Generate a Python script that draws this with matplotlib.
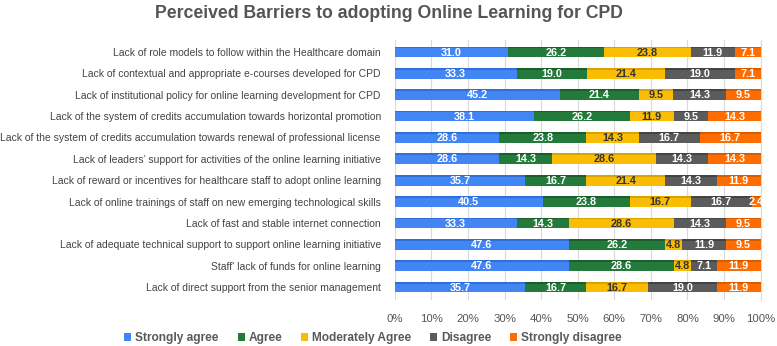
import numpy as np
import matplotlib.pyplot as plt

plt.rcParams['font.family'] = ['Liberation Sans', 'DejaVu Sans']

categories = [
    "Lack of role models to follow within the Healthcare domain",
    "Lack of contextual and appropriate e-courses developed for CPD",
    "Lack of institutional policy for online learning development for CPD",
    "Lack of the system of credits accumulation towards horizontal promotion",
    "Lack of the system of credits accumulation towards renewal of professional license",
    "Lack of leaders\u2019 support for activities of the online learning initiative",
    "Lack of reward or incentives for healthcare staff to adopt online learning",
    "Lack of online trainings of staff on new emerging technological skills",
    "Lack of fast and stable internet connection",
    "Lack of adequate technical support to support online learning initiative",
    "Staff' lack of funds for online learning",
    "Lack of direct support from the senior management",
]
strongly_agree = [31.0, 33.3, 45.2, 38.1, 28.6, 28.6, 35.7, 40.5, 33.3, 47.6, 47.6, 35.7]
agree = [26.2, 19.0, 21.4, 26.2, 23.8, 14.3, 16.7, 23.8, 14.3, 26.2, 28.6, 16.7]
moderately = [23.8, 21.4, 9.5, 11.9, 14.3, 28.6, 21.4, 16.7, 28.6, 4.8, 4.8, 16.7]
disagree = [11.9, 19.0, 14.3, 9.5, 16.7, 14.3, 14.3, 16.7, 14.3, 11.9, 7.1, 19.0]
strongly_disagree = [7.1, 7.1, 9.5, 14.3, 16.7, 14.3, 11.9, 2.4, 9.5, 9.5, 11.9, 11.9]

series = [strongly_agree, agree, moderately, disagree, strongly_disagree]
names = ["Strongly agree", "Agree", "Moderately Agree", "Disagree", "Strongly disagree"]
colors = ["#4285f4", "#237a3a", "#fbbc04", "#5b5b5b", "#ff6d01"]
tops = ["#2f6fd6", "#1a5e2c", "#d9a203", "#444444", "#d95b00"]
txt_colors = ["white", "white", "#333333", "white", "white"]

fig = plt.figure(figsize=(7.77, 3.46), dpi=100)
ax = fig.add_axes([0.508, 0.133, 0.471, 0.751])

y = np.arange(len(categories))[::-1]
h = 0.5
left = np.zeros(len(categories))
total = np.sum(np.array(series), axis=0)
for vals, name, c, tc, top in zip(series, names, colors, txt_colors, tops):
    vals = np.array(vals)
    w = vals / total * 100
    ax.barh(y, w, left=left, height=h, color=c, label=name, zorder=3)
    ax.barh(y + h / 2 - 0.04, w, left=left, height=0.08, color=top, zorder=4)
    for yi, li, wi, v in zip(y, left, w, vals):
        ax.text(li + wi / 2, yi - 0.03, f"{v:.1f}", ha="center", va="center",
                color=tc, fontsize=7.8, fontweight="bold", zorder=5)
    left = left + w

ax.set_xlim(0, 100)
ax.set_ylim(-0.6, len(categories) - 0.45)
ax.set_xticks(np.arange(0, 101, 10))
ax.set_xticklabels([f"{t}%" for t in range(0, 101, 10)], color="#555555", fontsize=8.2)
ax.set_yticks(y)
ax.set_yticklabels(categories, fontsize=7.5, color="#444444")
ax.tick_params(length=0, pad=10)
ax.tick_params(axis="x", pad=10)
ax.grid(axis="x", color="#d9d9d9", linewidth=0.8, zorder=0)
for s in ["top", "left", "bottom"]:
    ax.spines[s].set_visible(False)
ax.spines["right"].set_color("#d9d9d9")

fig.text(0.5, 0.96, "Perceived Barriers to adopting Online Learning for CPD",
         ha="center", va="center", fontsize=12.7, fontweight="bold", color="#555555")

leg = fig.legend(loc="center", bbox_to_anchor=(0.48, 0.022), ncol=5, frameon=False,
                 fontsize=8.6, handlelength=0.6, handleheight=0.6, handletextpad=0.3,
                 columnspacing=1.6)
for t in leg.get_texts():
    t.set_fontweight("bold")
    t.set_color("#595959")

fig.savefig("out.png", dpi=100)
